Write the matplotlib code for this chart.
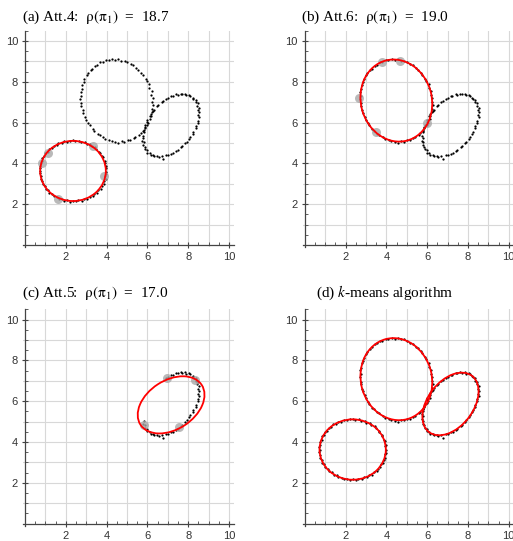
import matplotlib
matplotlib.use("Agg")
import matplotlib.pyplot as plt
from matplotlib.patches import Ellipse
from matplotlib.ticker import MultipleLocator

# ---------------- data ----------------
A_x = [3.99,3.95,3.98,3.91,3.90,3.81,3.78,3.66,3.62,3.48,3.42,3.27,3.18,3.02,2.93,2.75,2.64,2.47,2.36,
       2.20,2.08,1.91,1.80,1.64,1.55,1.40,1.31,1.18,1.11,0.99,0.95,0.85,0.83,0.76,0.75,0.71,0.73,
       0.72,0.76,0.77,0.84,0.86,0.96,1.01,1.12,1.19,1.32,1.41,1.56,1.65,1.81,1.92,2.08,2.20,2.36,
       2.50,2.62,2.79,2.90,3.06,3.16,3.31,3.39,3.52,3.59,3.71,3.75,3.85,3.87,3.95,3.94,3.99]
A_y = [3.60,3.78,3.87,4.03,4.12,4.29,4.35,4.50,4.56,4.70,4.79,4.83,4.94,4.95,5.05,5.04,5.12,5.08,5.13,
       5.12,5.07,5.08,4.99,4.99,4.89,4.86,4.74,4.70,4.56,4.49,4.34,4.27,4.11,4.02,3.87,3.77,3.61,
       3.52,3.36,3.23,3.13,2.98,2.90,2.76,2.69,2.56,2.52,2.40,2.36,2.27,2.25,2.18,2.19,2.13,2.17,
       2.14,2.19,2.18,2.26,2.27,2.37,2.40,2.52,2.56,2.70,2.76,2.91,2.98,3.14,3.23,3.39,3.48]

B_x = [6.20,6.10,6.08,5.96,5.91,5.77,5.70,5.55,5.46,5.29,5.18,5.00,4.89,4.70,4.58,4.40,4.27,4.10,
       3.98,3.80,3.69,3.53,3.43,3.28,3.21,3.07,3.02,2.91,2.88,2.79,2.78,2.72,2.75,2.71,2.76,2.75,
       2.83,2.84,2.95,2.98,3.11,3.17,3.32,3.40,3.56,3.65,3.83,3.94,4.12,4.24,4.43,4.55,4.73,4.85,
       5.03,5.14,5.32,5.41,5.58,5.66,5.81,5.87,5.99,6.03,6.14,6.15,6.23,6.22,6.27,6.23,6.26,6.19]
B_y = [7.55,7.68,7.88,8.05,8.16,8.34,8.44,8.60,8.67,8.81,8.85,8.97,9.03,9.04,9.11,9.07,9.12,9.05,
       9.06,8.97,8.95,8.84,8.79,8.65,8.57,8.41,8.31,8.13,7.99,7.86,7.65,7.51,7.31,7.17,6.96,6.82,
       6.61,6.48,6.28,6.15,5.97,5.86,5.69,5.60,5.45,5.40,5.27,5.20,5.13,5.09,5.05,4.98,5.09,5.06,
       5.14,5.15,5.25,5.28,5.41,5.48,5.63,5.72,5.89,6.00,6.18,6.31,6.51,6.65,6.85,7.00,7.20,7.35]

C_x = [8.22,8.10,8.05,7.91,7.84,7.70,7.63,7.48,7.40,7.24,7.15,7.00,6.92,6.77,6.69,6.54,6.47,6.34,
       6.28,6.15,6.11,6.00,5.97,5.88,5.87,5.80,5.81,5.76,5.79,5.75,5.81,5.80,5.87,5.88,5.98,6.00,
       6.11,6.15,6.28,6.34,6.47,6.55,6.70,6.77,6.93,7.01,7.17,7.25,7.41,7.48,7.64,7.71,7.86,7.92,
       8.05,8.10,8.22,8.25,8.36,8.37,8.46,8.46,8.52,8.50,8.54,8.50,8.52,8.45,8.46,8.37,8.36,8.25]
C_y = [7.22,7.31,7.36,7.35,7.41,7.38,7.42,7.36,7.38,7.30,7.29,7.19,7.16,7.04,6.99,6.86,6.79,6.64,
       6.56,6.40,6.31,6.14,6.05,5.88,5.78,5.61,5.52,5.35,5.26,5.11,5.03,4.88,4.82,4.69,4.65,4.53,
       4.51,4.41,4.41,4.34,4.36,4.30,4.35,4.22,4.39,4.40,4.48,4.50,4.61,4.66,4.78,4.84,4.98,5.06,
       5.21,5.30,5.46,5.55,5.72,5.83,5.99,6.09,6.25,6.35,6.51,6.60,6.74,6.82,6.95,7.01,7.12,7.17]
# points of cluster C still unassigned in panel (c)
C_subset_idx = list(range(0, 13)) + list(range(30, 72))

# fitted ellipses: (cx, cy, width, height, angle)
fit_a = (2.35, 3.63, 3.22, 2.95, 0)
fit_b = (4.49, 7.08, 3.48, 4.06, 15)
fit_c = (7.16, 5.82, 3.58, 2.40, 33)
kmeans_fits = [(2.35, 3.63, 3.25, 2.96, 0),
               (4.49, 7.08, 3.48, 4.06, 15),
               (7.145, 5.865, 3.47, 2.23, 52.6)]

# highlighted (gray) sample points
hl_a_x = [0.82, 1.14, 3.32, 3.87, 1.63]
hl_a_y = [4.00, 4.53, 4.85, 3.38, 2.25]
hl_b_x = [3.80, 4.69, 2.66, 3.51, 6.00]
hl_b_y = [8.98, 9.03, 7.23, 5.55, 5.96]
hl_c_x = [6.95, 8.35, 5.82, 7.54]
hl_c_y = [7.12, 7.02, 4.82, 4.74]

titles = [r"(a) Att.4:  $\mathrm{\rho}(\mathrm{\pi}_1)$  =  18.7",
          r"(b) Att.6:  $\mathrm{\rho}(\mathrm{\pi}_1)$  =  19.0",
          r"(c) Att.5:  $\mathrm{\rho}(\mathrm{\pi}_1)$  =  17.0",
          r"(d) $k$-means algorithm"]
tick_labels = ["2", "4", "6", "8", "10"]

# ---------------- figure ----------------
plt.rcParams['mathtext.fontset'] = 'stix'
W, H = 513, 541
fig = plt.figure(figsize=(W / 100, H / 100), dpi=100)

PX = 20.4
XL = (-0.1, 10.25)
YL = (-0.1, 10.5)


def make_ax(left_px, top_px):
    w = (XL[1] - XL[0]) * PX
    h = (YL[1] - YL[0]) * PX
    ax = fig.add_axes([left_px / W, 1 - (top_px + h) / H, w / W, h / H])
    ax.set_xlim(*XL)
    ax.set_ylim(*YL)
    ax.patch.set_alpha(0)
    for s in ('top', 'right'):
        ax.spines[s].set_visible(False)
    for s in ('left', 'bottom'):
        ax.spines[s].set_position(('data', 0))
        ax.spines[s].set_color('#444444')
        ax.spines[s].set_linewidth(0.9)
    ax.spines['left'].set_bounds(-0.1, 10.5)
    ax.spines['bottom'].set_bounds(-0.1, 10.25)
    ax.set_xticks([2, 4, 6, 8, 10])
    ax.set_yticks([2, 4, 6, 8, 10])
    ax.set_xticklabels(tick_labels)
    ax.set_yticklabels(tick_labels)
    ax.xaxis.set_minor_locator(MultipleLocator(0.5))
    ax.yaxis.set_minor_locator(MultipleLocator(0.5))
    ax.tick_params(which='major', direction='inout', length=4, width=0.8,
                   color='#444444', labelsize=8, labelcolor='#333333', pad=3)
    ax.tick_params(which='minor', direction='in', length=2, width=0.6, color='#444444')
    for lab in ax.get_xticklabels() + ax.get_yticklabels():
        lab.set_family('Liberation Sans')
    for v in range(1, 11):
        ax.axvline(v, color='#d8d8d8', lw=0.8, zorder=0)
        ax.axhline(v, color='#d8d8d8', lw=0.8, zorder=0)
    return ax


def draw_ell(ax, p):
    e = Ellipse((p[0], p[1]), p[2], p[3], angle=p[4], fill=False,
                ec='#ff0000', lw=1.3, zorder=5)
    ax.add_patch(e)


def pts(ax, x, y):
    ax.scatter(x, y, s=2.6, c='black', linewidths=0, zorder=3)


def hl(ax, x, y):
    ax.scatter(x, y, s=42, c='#a8a8a8', alpha=0.8, linewidths=0, zorder=4)


axA = make_ax(23.0, 30.8)
axB = make_ax(302.7, 30.8)
axC = make_ax(23.0, 309.4)
axD = make_ax(302.7, 309.4)

# (a)
pts(axA, A_x + B_x + C_x, A_y + B_y + C_y)
hl(axA, hl_a_x, hl_a_y)
draw_ell(axA, fit_a)
# (b)
pts(axB, B_x + C_x, B_y + C_y)
hl(axB, hl_b_x, hl_b_y)
draw_ell(axB, fit_b)
# (c)
pts(axC, [C_x[i] for i in C_subset_idx], [C_y[i] for i in C_subset_idx])
hl(axC, hl_c_x, hl_c_y)
draw_ell(axC, fit_c)
# (d)
pts(axD, A_x + B_x + C_x, A_y + B_y + C_y)
for p in kmeans_fits:
    draw_ell(axD, p)

title_pos = [(22, 17), (301, 17), (22, 293), (316, 293)]
for t, (x, y) in zip(titles, title_pos):
    fig.text(x / W, 1 - y / H, t, family='Liberation Serif', fontsize=11,
             va='center', ha='left')

fig.savefig("out.png", dpi=100)
